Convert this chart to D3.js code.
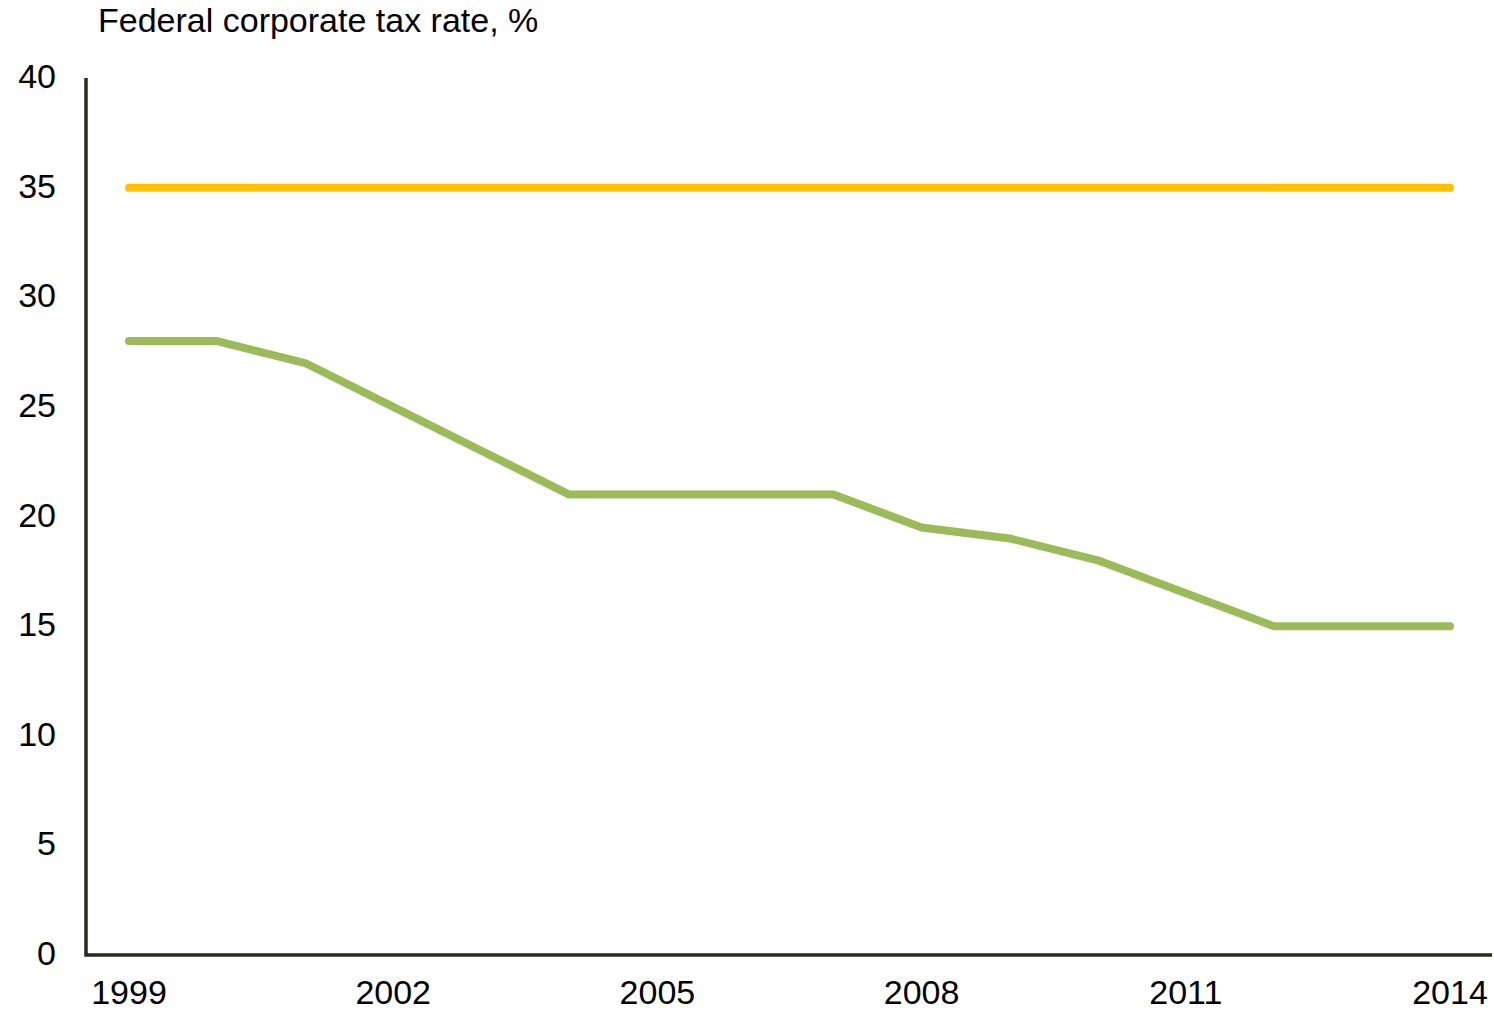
<!DOCTYPE html>
<html>
<head>
<meta charset="utf-8">
<script src="https://cdn.jsdelivr.net/npm/d3@7"></script>
<style>
  html, body { margin: 0; padding: 0; background: #fff; }
  svg { display: block; font-family: "Liberation Sans", Arial, sans-serif; }
</style>
</head>
<body>
<svg id="chart" width="1494" height="1012"></svg>
<script>
// Years shown on the chart
const years = [1999, 2000, 2001, 2002, 2003, 2004, 2005, 2006, 2007, 2008, 2009, 2010, 2011, 2012, 2013, 2014];
// Statutory rate (flat)
const statutoryRate = [35, 35, 35, 35, 35, 35, 35, 35, 35, 35, 35, 35, 35, 35, 35, 35];
// Effective rate
const effectiveRate = [28, 28, 27, 25, 23, 21, 21, 21, 21, 19.5, 19, 18, 16.5, 15, 15, 15];
// Axis tick labels
const yTicks = [0, 5, 10, 15, 20, 25, 30, 35, 40];
const xTicks = [1999, 2002, 2005, 2008, 2011, 2014];
const title = "Federal corporate tax rate, %";

const svg = d3.select("#chart");
const axisX = 86, axisBottom = 955, axisTop = 78, axisRight = 1492;
const fontSize = 34;

const x = d3.scaleLinear().domain([1999, 2014]).range([129, 1450]);
const y = d3.scaleLinear().domain([0, 40]).range([axisBottom, axisTop]);

// Title
svg.append("text")
  .attr("x", 98).attr("y", 32)
  .attr("font-size", fontSize).attr("fill", "#000")
  .text(title);

// Y tick labels
svg.append("g").selectAll("text").data(yTicks).join("text")
  .attr("x", 56).attr("y", d => y(d) + 10)
  .attr("text-anchor", "end")
  .attr("font-size", fontSize).attr("fill", "#000")
  .text(d => d);

// X tick labels
svg.append("g").selectAll("text").data(xTicks).join("text")
  .attr("x", d => x(d)).attr("y", 1004)
  .attr("text-anchor", "middle")
  .attr("font-size", fontSize).attr("fill", "#000")
  .text(d => d);

// Axis lines
svg.append("path")
  .attr("d", `M${axisX},${axisTop}V${axisBottom}H${axisRight}`)
  .attr("fill", "none")
  .attr("stroke", "#262b1a")
  .attr("stroke-width", 3.5);

const line = d3.line()
  .x((d, i) => x(years[i]))
  .y(d => y(d));

svg.append("path")
  .datum(statutoryRate)
  .attr("d", line)
  .attr("fill", "none")
  .attr("stroke", "#ffc000")
  .attr("stroke-width", 8)
  .attr("stroke-linecap", "round")
  .attr("stroke-linejoin", "round");

svg.append("path")
  .datum(effectiveRate)
  .attr("d", line)
  .attr("fill", "none")
  .attr("stroke", "#9bbb59")
  .attr("stroke-width", 8)
  .attr("stroke-linecap", "round")
  .attr("stroke-linejoin", "round");
</script>
</body>
</html>
